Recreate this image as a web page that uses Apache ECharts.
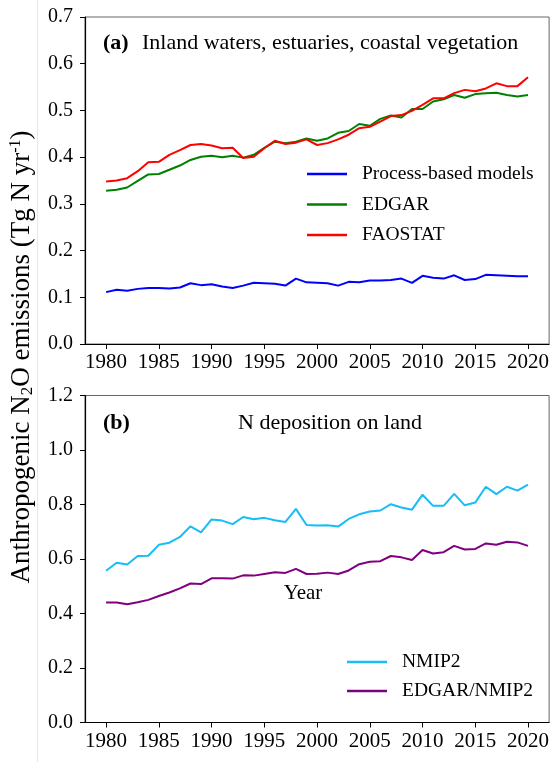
<!DOCTYPE html>
<html>
<head>
<meta charset="utf-8">
<style>
  html, body { margin: 0; padding: 0; background: #fff; }
  #chart { width: 552px; height: 762px; }
</style>
<script src="https://cdn.jsdelivr.net/npm/echarts@6/dist/echarts.min.js"></script>
</head>
<body>
<div id="chart"></div>
<script>
// ---- data ----
var years = [];
for (var y = 1980; y <= 2020; y++) years.push(y);
var xTickValues = [1980, 1985, 1990, 1995, 2000, 2005, 2010, 2015, 2020];

var processBased = [0.111,0.116,0.114,0.118,0.120,0.120,0.119,0.121,0.130,0.126,
                    0.128,0.123,0.120,0.125,0.131,0.130,0.129,0.125,0.140,0.132,
                    0.131,0.130,0.125,0.133,0.132,0.136,0.136,0.137,0.140,0.131,
                    0.146,0.142,0.140,0.147,0.137,0.139,0.148,0.147,0.146,0.145,
                    0.145];
var edgar = [0.328,0.330,0.335,0.349,0.363,0.364,0.373,0.382,0.394,0.401,
             0.403,0.400,0.403,0.399,0.405,0.420,0.433,0.430,0.433,0.440,
             0.435,0.440,0.452,0.456,0.471,0.467,0.482,0.489,0.485,0.503,
             0.503,0.519,0.524,0.533,0.527,0.535,0.537,0.538,0.533,0.530,
             0.533];
var faostat = [0.348,0.350,0.355,0.370,0.389,0.390,0.405,0.415,0.426,0.428,
               0.425,0.419,0.420,0.398,0.401,0.419,0.435,0.428,0.431,0.438,
               0.426,0.430,0.438,0.448,0.462,0.465,0.476,0.488,0.490,0.499,
               0.512,0.526,0.526,0.537,0.544,0.541,0.547,0.558,0.552,0.552,
               0.571];
var nmip2 = [0.557,0.586,0.580,0.611,0.612,0.652,0.660,0.681,0.720,0.698,
             0.745,0.741,0.728,0.754,0.746,0.751,0.742,0.736,0.784,0.725,
             0.723,0.724,0.719,0.747,0.764,0.774,0.778,0.801,0.789,0.781,
             0.836,0.795,0.795,0.839,0.797,0.807,0.865,0.838,0.865,0.851,
             0.873];
var edgarNmip2 = [0.440,0.440,0.434,0.441,0.450,0.464,0.477,0.492,0.510,0.508,
                  0.529,0.529,0.528,0.540,0.539,0.545,0.551,0.549,0.564,0.545,
                  0.546,0.550,0.545,0.558,0.581,0.590,0.592,0.611,0.606,0.596,
                  0.633,0.620,0.625,0.648,0.635,0.637,0.657,0.652,0.663,0.661,
                  0.648];

var topSeriesNames = ['Process-based models', 'EDGAR', 'FAOSTAT'];
var bottomSeriesNames = ['NMIP2', 'EDGAR/NMIP2'];

// ---- chart ----
var FONT = 'Liberation Serif';
function pairs(arr) { return years.map(function (yr, i) { return [yr, arr[i]]; }); }

function xAxisCfg(gridIndex) {
  return {
    type: 'value', gridIndex: gridIndex, min: 1978, max: 2022,
    axisLine: { show: true, onZero: false, lineStyle: { color: '#000', width: 1.2 } },
    axisTick: { show: true, inside: false, length: 5, customValues: xTickValues, lineStyle: { color: '#000', width: 1 } },
    axisLabel: { customValues: xTickValues, margin: 8, fontFamily: FONT, fontSize: 21, color: '#000',
                 formatter: function (v) { return String(v); } },
    splitLine: { show: false }
  };
}
function yAxisCfg(gridIndex, max, interval) {
  return {
    type: 'value', gridIndex: gridIndex, min: 0, max: max, interval: interval,
    axisLine: { show: true, lineStyle: { color: '#000', width: 1.2 } },
    axisTick: { show: true, inside: false, length: 5, lineStyle: { color: '#000', width: 1 } },
    axisLabel: { margin: 12, fontFamily: FONT, fontSize: 20, color: '#000',
                 formatter: function (v) { return v.toFixed(1); } },
    splitLine: { show: false }
  };
}
function lineSeries(name, data, color, xi) {
  return {
    type: 'line', name: name, data: pairs(data), xAxisIndex: xi, yAxisIndex: xi,
    showSymbol: false, symbol: 'none', lineStyle: { color: color, width: 2 }, itemStyle: { color: color },
    animation: false
  };
}

var chart = echarts.init(document.getElementById('chart'), null, { renderer: 'canvas' });
chart.setOption({
  backgroundColor: '#fff',
  animation: false,
  grid: [
    { left: 85, right: 2, top: 17, height: 327, show: true, borderColor: '#666', borderWidth: 1, backgroundColor: 'transparent' },
    { left: 85, right: 2, top: 395.5, height: 327, show: true, borderColor: '#666', borderWidth: 1, backgroundColor: 'transparent' }
  ],
  xAxis: [xAxisCfg(0), xAxisCfg(1)],
  yAxis: [yAxisCfg(0, 0.7, 0.1), yAxisCfg(1, 1.2, 0.2)],
  legend: [
    { data: topSeriesNames, orient: 'vertical', left: 302, top: 159, itemWidth: 40, itemHeight: 2.5, itemGap: 10.5,
      icon: 'rect', textStyle: { fontFamily: FONT, fontSize: 19.5, color: '#000', padding: [0, 0, 0, 10] }, selectedMode: false },
    { data: bottomSeriesNames, orient: 'vertical', left: 342, top: 647, itemWidth: 40, itemHeight: 2.5, itemGap: 9,
      icon: 'rect', textStyle: { fontFamily: FONT, fontSize: 19.5, color: '#000', padding: [0, 0, 0, 10] }, selectedMode: false }
  ],
  series: [
    lineSeries('Process-based models', processBased, '#0000ff', 0),
    lineSeries('EDGAR', edgar, '#008000', 0),
    lineSeries('FAOSTAT', faostat, '#ff0000', 0),
    lineSeries('NMIP2', nmip2, '#16bdf7', 1),
    lineSeries('EDGAR/NMIP2', edgarNmip2, '#800080', 1)
  ],
  graphic: [
    { type: 'line', shape: { x1: 37.5, y1: 0, x2: 37.5, y2: 762 }, style: { stroke: '#e8e8e8', lineWidth: 1 }, silent: true },
    { type: 'text', x: 103, y: 43, style: { text: '(a)', font: 'bold 22px "Liberation Serif"', fill: '#000', textVerticalAlign: 'middle' } },
    { type: 'text', x: 142, y: 43, style: { text: 'Inland waters, estuaries, coastal vegetation', font: '22px "Liberation Serif"', fill: '#000', textVerticalAlign: 'middle' } },
    { type: 'text', x: 103, y: 423, style: { text: '(b)', font: 'bold 22px "Liberation Serif"', fill: '#000', textVerticalAlign: 'middle' } },
    { type: 'text', x: 238, y: 423, style: { text: 'N deposition on land', font: '22px "Liberation Serif"', fill: '#000', textVerticalAlign: 'middle' } },
    { type: 'text', x: 303, y: 593, style: { text: 'Year', font: '21px "Liberation Serif"', fill: '#000', align: 'center', verticalAlign: 'middle' } },
    { type: 'text', x: 22, y: 357, rotation: Math.PI / 2,
      style: {
        text: '{a|Anthropogenic N}{sub|2}{a|O emissions (Tg N yr}{sup|-1}{a|)}',
        align: 'center', verticalAlign: 'middle', fill: '#000',
        rich: {
          a: { fontFamily: FONT, fontSize: 27, lineHeight: 29, fill: '#000' },
          sub: { fontFamily: FONT, fontSize: 17, lineHeight: 17, verticalAlign: 'bottom', fill: '#000' },
          sup: { fontFamily: FONT, fontSize: 16, lineHeight: 16, verticalAlign: 'top', fill: '#000' }
        }
      }
    }
  ]
});
</script>
</body>
</html>
